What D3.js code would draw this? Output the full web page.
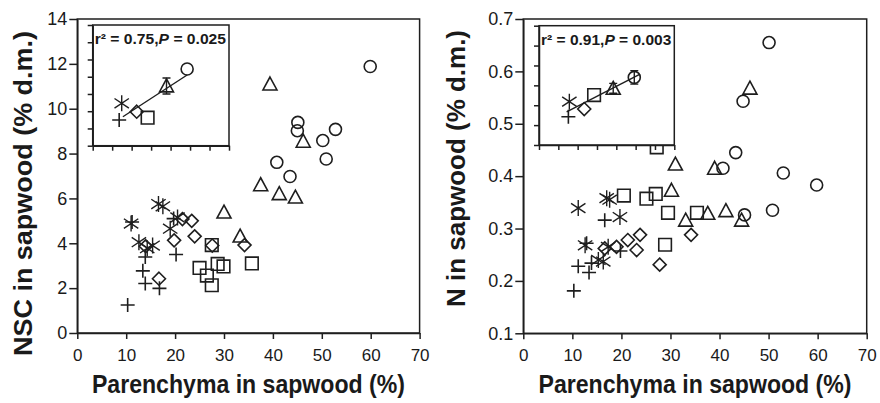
<!DOCTYPE html>
<html>
<head>
<meta charset="utf-8">
<script src="https://cdn.jsdelivr.net/npm/d3@7"></script>
<style>
  body { margin: 0; background: #fff; }
  text { font-family: 'Liberation Sans', Arial, sans-serif; fill: #1a1a1a; }
</style>
</head>
<body>
<div id="chart"></div>
<script>
// ---- values ----
const xTicks = [0, 10, 20, 30, 40, 50, 60, 70];
const nscTicks = [0, 2, 4, 6, 8, 10, 12, 14];
const nTicks = [0.1, 0.2, 0.3, 0.4, 0.5, 0.6, 0.7];

// left panel: [parenchyma %, NSC %]
const nscPlus = [[10.3, 1.25], [16.8, 1.99], [13.9, 2.21], [13.4, 2.77], [13.9, 3.39], [20.2, 3.5], [11.2, 4.95], [19.7, 5.1]];
const nscStar = [[11.0, 4.88], [16.6, 5.75], [17.5, 5.65], [12.6, 4.05], [14.3, 3.78], [15.4, 3.9], [19.0, 4.65], [20.5, 5.15]];
const nscDiamond = [[16.7, 2.42], [14.0, 3.87], [19.8, 4.13], [23.4, 5.0], [21.5, 5.08], [24.0, 4.31], [27.6, 3.9], [34.2, 3.92]];
const nscSquare = [[25.0, 2.9], [27.5, 3.92], [28.7, 3.08], [29.9, 2.97], [26.5, 2.56], [27.5, 2.13], [35.7, 3.1]];
const nscTriangle = [[39.4, 11.1], [46.2, 8.55], [37.5, 6.61], [41.3, 6.21], [44.6, 6.06], [33.3, 4.32], [30.0, 5.39]];
const nscCircle = [[59.9, 11.88], [45.1, 9.39], [45.0, 9.02], [52.8, 9.08], [50.2, 8.58], [50.9, 7.76], [40.8, 7.61], [43.5, 6.98]];

// right panel: [parenchyma %, N %]
const nPlus = [[10.3, 0.181], [16.6, 0.316], [11.2, 0.228], [13.4, 0.216], [19.8, 0.257], [12.9, 0.272], [13.9, 0.234]];
const nStar = [[11.2, 0.339], [17.0, 0.358], [17.6, 0.355], [19.7, 0.322], [12.6, 0.268], [15.3, 0.24], [16.3, 0.237], [17.3, 0.265]];
const nDiamond = [[21.3, 0.278], [23.8, 0.288], [23.1, 0.259], [19.0, 0.265], [16.6, 0.262], [27.8, 0.231], [34.2, 0.288]];
const nSquare = [[20.5, 0.363], [25.1, 0.357], [27.0, 0.366], [29.5, 0.33], [28.9, 0.269], [35.4, 0.33], [27.2, 0.455]];
const nTriangle = [[46.2, 0.568], [31.0, 0.423], [39.0, 0.415], [30.2, 0.373], [33.1, 0.316], [37.6, 0.329], [41.3, 0.334], [44.5, 0.316]];
const nCircle = [[50.1, 0.655], [44.8, 0.543], [43.3, 0.445], [40.7, 0.415], [53.0, 0.406], [59.8, 0.383], [50.8, 0.335], [45.1, 0.326]];

// inset group means, same order as groupShapes
const groupShapes = ['plus', 'star', 'diamond', 'square', 'triangle', 'circle'];
const nscMeanX = [13.6, 14.9, 22.6, 28.2, 37.9, 48.5];
const nscMeanY = [2.98, 4.92, 3.94, 3.25, 6.93, 8.9];
const nscMeanErr = [0, 0, 0, 0, 0.93, 0];
const nscFitX = [15.5, 48.5];
const nscFitY = [3.36, 8.2];
const nMeanX = [15.2, 15.7, 23.4, 28.5, 38.4, 49.3];
const nMeanY = [0.242, 0.318, 0.281, 0.351, 0.385, 0.44];
const nMeanErr = [0, 0, 0, 0, 0.025, 0.034];
const nFitX = [14.3, 52.3];
const nFitY = [0.267, 0.457];

const ink = '#1e1e1e';

const svg = d3.select('#chart')
  .append('svg')
  .attr('width', 880)
  .attr('height', 403);

// path for each Excel-like marker, r is the half size
function markerPath(shape, r) {
  if (shape === 'circle') {
    return `M${r},0A${r},${r} 0 1,1 ${-r},0A${r},${r} 0 1,1 ${r},0Z`;
  }
  if (shape === 'square') {
    return `M${-r},${-r}h${2 * r}v${2 * r}h${-2 * r}Z`;
  }
  if (shape === 'triangle') {
    return `M0,${-r}L${r},${r * 0.85}L${-r},${r * 0.85}Z`;
  }
  if (shape === 'diamond') {
    return `M0,${-r}L${r},0L0,${r}L${-r},0Z`;
  }
  if (shape === 'plus') {
    return `M${-r},0H${r}M0,${-r}V${r}`;
  }
  // star: X with a vertical stroke
  const dx = r * 0.9;
  const dy = r * 0.6;
  return `M${-dx},${-dy}L${dx},${dy}M${dx},${-dy}L${-dx},${dy}M0,${-r}V${r}`;
}

const markerSize = { circle: 6, square: 6.3, triangle: 7, diamond: 6.5, plus: 7, star: 8 };

function drawPoints(g, pts, shape, x, y) {
  g.selectAll(null)
    .data(pts)
    .join('path')
    .attr('transform', (d) => `translate(${x(d[0])},${y(d[1])})`)
    .attr('d', markerPath(shape, markerSize[shape]))
    .attr('fill', 'none')
    .attr('stroke', ink)
    .attr('stroke-width', shape === 'star' ? 1.4 : 1.6);
}

function drawPanel(cfg) {
  const x = d3.scaleLinear().domain([0, 70]).range([cfg.left, cfg.right]);
  const y = d3.scaleLinear().domain(cfg.yDomain).range([cfg.bottom, cfg.top]);

  // frame (top and right sides)
  svg.append('rect')
    .attr('x', cfg.left)
    .attr('y', cfg.top)
    .attr('width', cfg.right - cfg.left)
    .attr('height', cfg.bottom - cfg.top)
    .attr('fill', 'none')
    .attr('stroke', ink)
    .attr('stroke-width', 1.5);

  const xAxis = svg.append('g')
    .attr('transform', `translate(0,${cfg.bottom})`)
    .call(d3.axisBottom(x).tickValues(xTicks).tickSize(6).tickSizeOuter(0).tickPadding(10));
  const yAxis = svg.append('g')
    .attr('transform', `translate(${cfg.left},0)`)
    .call(d3.axisLeft(y).tickValues(cfg.yTicks).tickFormat(cfg.yFmt).tickSize(8).tickSizeOuter(0).tickPadding(2));

  [xAxis, yAxis].forEach((a) => {
    a.selectAll('path, line').attr('stroke', ink).attr('stroke-width', 1.5);
    a.selectAll('text').attr('fill', '#1a1a1a')
      .attr('font-family', "'Liberation Sans', Arial, sans-serif");
  });
  xAxis.selectAll('text').attr('font-size', 17);
  yAxis.selectAll('text').attr('font-size', 18);

  // axis titles
  svg.append('text')
    .attr('x', (cfg.left + cfg.right) / 2)
    .attr('y', 393)
    .attr('text-anchor', 'middle')
    .attr('font-size', 25)
    .attr('font-weight', 'bold')
    .attr('textLength', 313)
    .attr('lengthAdjust', 'spacingAndGlyphs')
    .text('Parenchyma in sapwood (%)');

  svg.append('text')
    .attr('transform', `translate(${cfg.titleX},${cfg.titleY}) rotate(-90)`)
    .attr('text-anchor', 'middle')
    .attr('font-size', 25)
    .attr('font-weight', 'bold')
    .attr('textLength', cfg.titleLen)
    .attr('lengthAdjust', 'spacingAndGlyphs')
    .text(cfg.title);

  const pts = svg.append('g');
  cfg.groups.forEach((grp, i) => drawPoints(pts, grp, groupShapes[i], x, y));

  // inset with group means
  const ins = cfg.inset;
  const ix = d3.scaleLinear().domain([0, 70]).range([ins.left, ins.right]);
  const iy = d3.scaleLinear().domain(cfg.yDomain).range([ins.bottom, ins.top]);
  const ig = svg.append('g');

  ig.append('rect')
    .attr('x', ins.left)
    .attr('y', ins.top)
    .attr('width', ins.right - ins.left)
    .attr('height', ins.bottom - ins.top)
    .attr('fill', '#fff')
    .attr('stroke', ink)
    .attr('stroke-width', 1.5);

  const ixAxis = ig.append('g')
    .attr('transform', `translate(0,${ins.bottom})`)
    .call(d3.axisBottom(ix).tickValues(xTicks).tickSize(5).tickSizeOuter(0).tickFormat(''));
  const iyAxis = ig.append('g')
    .attr('transform', `translate(${ins.left},0)`)
    .call(d3.axisLeft(iy).tickValues(cfg.yTicks).tickSize(5).tickSizeOuter(0).tickFormat(''));
  [ixAxis, iyAxis].forEach((a) => a.selectAll('path, line').attr('stroke', ink).attr('stroke-width', 1.5));

  // regression line
  ig.append('line')
    .attr('x1', ix(ins.fitX[0]))
    .attr('y1', iy(ins.fitY[0]))
    .attr('x2', ix(ins.fitX[1]))
    .attr('y2', iy(ins.fitY[1]))
    .attr('stroke', ink)
    .attr('stroke-width', 1.4);

  // error bars
  ins.meanX.forEach((mx, i) => {
    const e = ins.meanErr[i];
    if (!e) return;
    const cx = ix(mx);
    const y1 = iy(ins.meanY[i] - e);
    const y2 = iy(ins.meanY[i] + e);
    ig.append('path')
      .attr('d', `M${cx},${y1}V${y2}M${cx - 4},${y1}H${cx + 4}M${cx - 4},${y2}H${cx + 4}`)
      .attr('fill', 'none')
      .attr('stroke', ink)
      .attr('stroke-width', 1.4);
  });

  ins.meanX.forEach((mx, i) => {
    drawPoints(ig, [[mx, ins.meanY[i]]], groupShapes[i], ix, iy);
  });

  const label = ig.append('text')
    .attr('x', ins.left + 2)
    .attr('y', ins.top + 19)
    .attr('font-family', "'Open Sans', 'Liberation Sans', sans-serif")
    .attr('font-weight', 600)
    .attr('font-size', 14)
    .attr('textLength', ins.right - ins.left - 5)
    .attr('lengthAdjust', 'spacingAndGlyphs');
  label.append('tspan').text(`r² = ${ins.r2},`);
  label.append('tspan').attr('font-style', 'italic').text('P');
  label.append('tspan').text(` = ${ins.p}`);
}

drawPanel({
  left: 77.3, right: 419.6, top: 19, bottom: 333,
  yDomain: [0, 14], yTicks: nscTicks, yFmt: d3.format('d'),
  title: 'NSC in sapwood (% d.m.)', titleX: 32, titleY: 193.5, titleLen: 325,
  groups: [nscPlus, nscStar, nscDiamond, nscSquare, nscTriangle, nscCircle],
  inset: {
    left: 92.7, right: 229, top: 25, bottom: 145.7,
    meanX: nscMeanX, meanY: nscMeanY, meanErr: nscMeanErr,
    fitX: nscFitX, fitY: nscFitY, r2: '0.75', p: '0.025'
  }
});

drawPanel({
  left: 523.3, right: 866.7, top: 19, bottom: 333.3,
  yDomain: [0.1, 0.7], yTicks: nTicks, yFmt: d3.format('.1f'),
  title: 'N in sapwood (% d.m.)', titleX: 465, titleY: 168.5, titleLen: 277,
  groups: [nPlus, nStar, nDiamond, nSquare, nTriangle, nCircle],
  inset: {
    left: 539, right: 674.3, top: 25.7, bottom: 145,
    meanX: nMeanX, meanY: nMeanY, meanErr: nMeanErr,
    fitX: nFitX, fitY: nFitY, r2: '0.91', p: '0.003'
  }
});
</script>
</body>
</html>
